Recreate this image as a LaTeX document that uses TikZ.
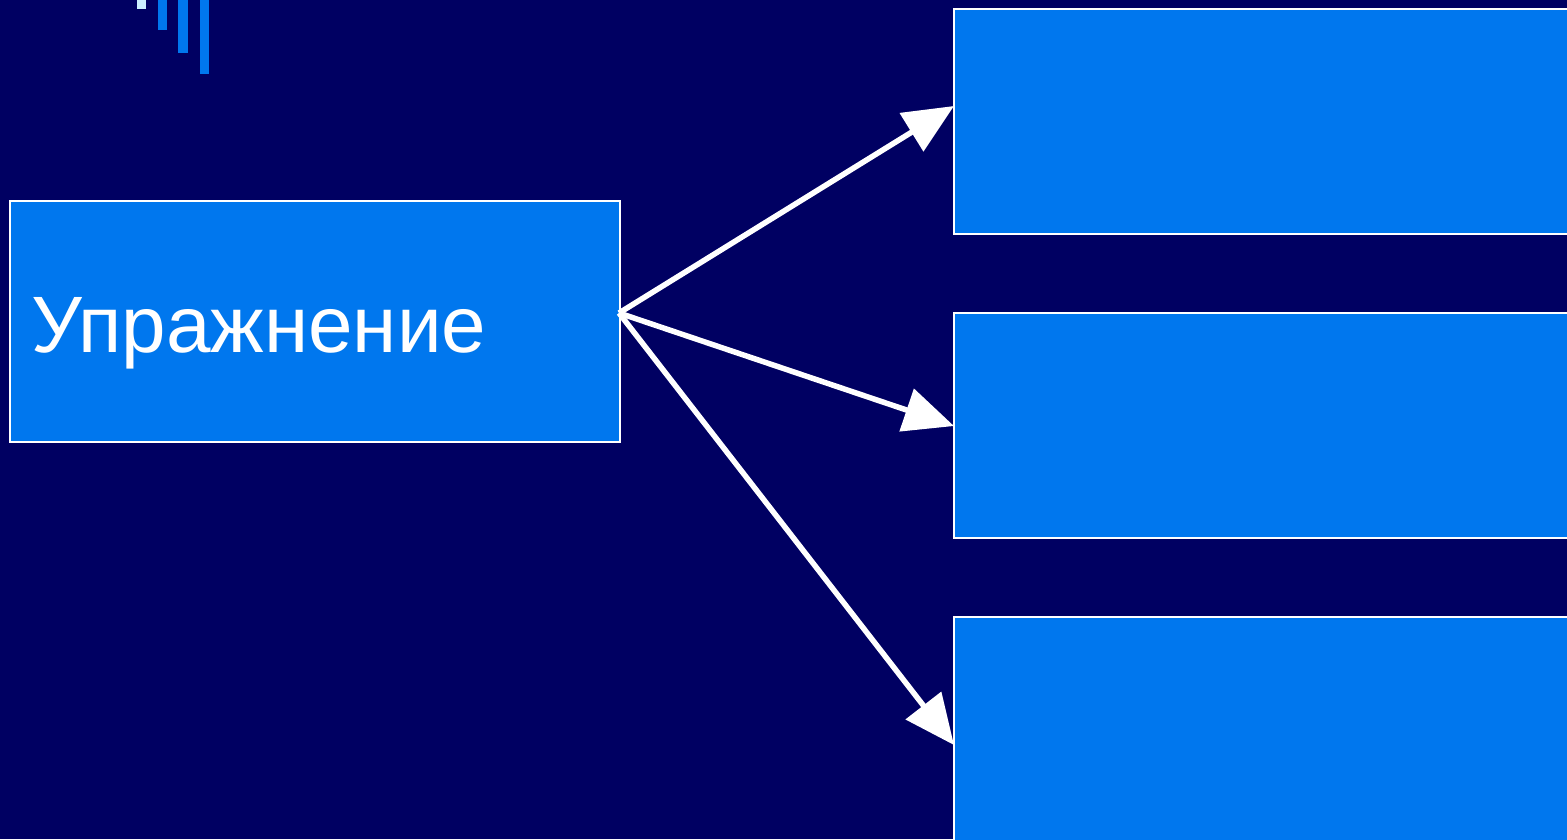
\documentclass[tikz,border=0pt]{standalone}
\usepackage{fontspec}
\setmainfont{Liberation Sans}
\usetikzlibrary{arrows.meta}
\definecolor{bgnavy}{HTML}{000062}
\definecolor{boxblue}{HTML}{0077EE}
\definecolor{barlight}{HTML}{CCEEFF}
\tikzset{
  box/.style={draw=white, line width=1.5pt, fill=boxblue},
  conn/.style={draw=white, line width=5.5pt, -{Triangle[length=50pt,width=44pt]}}
}
\begin{document}
\begin{tikzpicture}[x=1pt,y=-1pt]
\useasboundingbox (0,0) rectangle (1567,839);
\fill[bgnavy] (0,0) rectangle (1567,839);
\clip (0,0) rectangle (1567,839);
% decorative bars
\fill[barlight] (137,-2) rectangle (146,9);
\fill[boxblue] (158,-2) rectangle (167,30);
\fill[boxblue] (178,-2) rectangle (188,53);
\fill[boxblue] (200,-2) rectangle (209,74);
% boxes
\path[box] (10,201) rectangle (620,442);
\path[box] (954,9) rectangle (1580,234);
\path[box] (954,313) rectangle (1580,538);
\path[box] (954,617) rectangle (1580,860);
\node[anchor=base west, inner sep=0pt, text=white, font=\fontsize{80}{84}\selectfont] (lbl) at (31,352) {Упражнение};
\coordinate (src) at (619,313);
\coordinate (t1) at (954,106);
\coordinate (t2) at (954,426);
\coordinate (t3) at (954,745);
\draw[conn] (src) -- (t1);
\draw[conn] (src) -- (t2);
\draw[conn] (src) -- (t3);
\end{tikzpicture}
\end{document}
